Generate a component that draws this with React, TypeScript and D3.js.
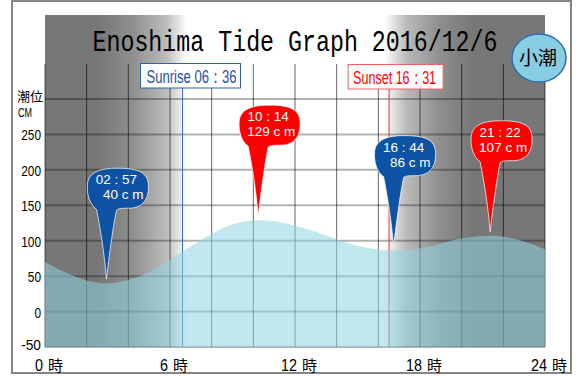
import React from "react";
import * as d3 from "d3";

// ---- data ----
const curveHours = [0, 1, 2, 2.95, 4, 5, 6, 7, 8, 9, 10.23, 11, 12, 13, 14, 15, 16, 16.73, 18, 19, 20, 21.37, 22, 23, 24];
const curveLevels = [70, 55, 44, 40, 44.5, 56, 73, 92, 110, 123, 129, 127.5, 121.5, 112.5, 102, 93, 87.5, 86, 89.5, 96, 103, 107, 105.5, 99, 88];

const eventHours = [2.95, 10.233, 16.733, 21.367];
const eventLevels = [40, 129, 86, 107];
const eventTimes = ["02 : 57", "10 : 14", "16 : 44", "21 : 22"];
const eventLabels = ["40 c m", "129 c m", "86 c m", "107 c m"];
const eventTypes = ["low", "high", "low", "high"];

const gridValues = [-50, 0, 50, 100, 150, 200, 250, 300];
const yTickValues = [-50, 0, 50, 100, 150, 200, 250];
const yTickLabels = ["-50", "0", "50", "100", "150", "200", "250"];
const gridHours = [0, 2, 4, 6, 8, 10, 12, 14, 16, 18, 20, 22, 24];
const xTickHours = [0, 6, 12, 18, 24];
const xTickLabels = ["0 時", "6 時", "12 時", "18 時", "24 時"];

const sunriseHour = 6.6;
const sunriseLabel = "Sunrise  06：36";
const sunsetHour = 16.517;
const sunsetLabel = "Sunset  16：31";

const title = "Enoshima Tide Graph 2016/12/6";
const moonLabel = "小潮";

// ---- layout ----
const W = 576, H = 376;
const x = d3.scaleLinear().domain([0, 24]).range([45, 545]);
const y = d3.scaleLinear().domain([-50, 300]).range([347, 99]);

const balloonShape =
  "M 0 0 C -2 -25, -6 -50, -10 -70 C -16 -74, -20 -84, -19 -95 C -18 -107, -6 -111, 10 -111 " +
  "C 28 -111, 42 -109, 42 -93 C 42 -77, 34 -71, 22 -71 C 16 -71, 12 -71, 10 -69 C 8 -60, 4 -35, 0 0 Z";

export default function App() {
  const area = d3
    .area<number>()
    .x((_, i) => x(curveHours[i]))
    .y0(y(-50))
    .y1((d) => y(d))
    .curve(d3.curveMonotoneX)(curveLevels) as string;

  const dark = "#777777";
  const gradStops = [
    { t: 0, c: dark },
    { t: sunriseHour - 4, c: dark },
    { t: sunriseHour - 2.4, c: "#8f8f8f" },
    { t: sunriseHour - 0.8, c: "#bbbbbb" },
    { t: sunriseHour + 0.2, c: "#ffffff" },
    { t: sunsetHour - 0.2, c: "#ffffff" },
    { t: sunsetHour + 0.8, c: "#bbbbbb" },
    { t: sunsetHour + 2.4, c: "#8f8f8f" },
    { t: sunsetHour + 4, c: dark },
    { t: 24, c: dark },
  ];

  const font = "'Liberation Sans', Arial, sans-serif";
  const cjk = "'Noto Sans CJK JP', sans-serif";
  const srX = x(sunriseHour);
  const ssX = x(sunsetHour);

  return (
    <svg
      width={W}
      height={H}
      style={{ position: "absolute", left: 0, top: 0, background: "#fff" }}
      fontFamily={font}
    >
      <defs>
        <linearGradient id="night" gradientUnits="userSpaceOnUse" x1={x(0)} x2={x(24)} y1={0} y2={0}>
          {gradStops.map((s, i) => (
            <stop key={i} offset={s.t / 24} stopColor={s.c} />
          ))}
        </linearGradient>
      </defs>

      {/* outer border */}
      <rect x={12} y={1} width={559} height={372} fill="#fff" stroke="#858585" strokeWidth={2} />

      {/* day/night background */}
      <rect x={x(0)} y={15} width={x(24) - x(0)} height={y(-50) - 15} fill="url(#night)" />

      {/* grid */}
      {gridValues.map((v) => (
        <line key={"h" + v} x1={x(0)} x2={x(24)} y1={y(v)} y2={y(v)} stroke="rgba(0,0,0,0.3)" strokeWidth={2} />
      ))}
      {gridHours.map((h) => (
        <line key={"v" + h} x1={x(h)} x2={x(h)} y1={64} y2={y(-50)} stroke="rgba(0,0,0,0.6)" strokeWidth={1} />
      ))}

      {/* sunrise / sunset lines */}
      <line x1={srX} x2={srX} y1={88} y2={y(-50)} stroke="#3a6fb8" strokeWidth={1} />
      <line x1={ssX} x2={ssX} y1={89} y2={y(-50)} stroke="#ee3333" strokeWidth={1} />

      {/* tide area */}
      <path d={area} fill="#8fd3e0" fillOpacity={0.55} />

      {/* sunrise / sunset boxes */}
      <rect x={srX - 42} y={63.5} width={100} height={24.5} fill="#fff" stroke="#2f62ad" strokeWidth={1} />
      <text x={srX - 36} y={83} fontSize={19} fill="#1f4fa0" textLength={90} lengthAdjust="spacingAndGlyphs">
        {sunriseLabel}
      </text>
      <rect x={ssX - 41} y={64.5} width={95} height={24.5} fill="#fff" stroke="#f06060" strokeWidth={1} />
      <text x={ssX - 36} y={84} fontSize={19} fill="#ff0000" textLength={83} lengthAdjust="spacingAndGlyphs">
        {sunsetLabel}
      </text>

      {/* title */}
      <g transform={`translate(${x(12)},51) scale(1,1.25)`}>
        <text
          x={0}
          y={0}
          fontSize={23.3}
          fontFamily="'Liberation Mono', 'DejaVu Sans Mono', monospace"
          textAnchor="middle"
          fill="#000"
          textLength={405}
          lengthAdjust="spacingAndGlyphs"
        >
          {title}
        </text>
      </g>

      {/* moon phase */}
      <ellipse cx={539} cy={58} rx={27} ry={24} fill="#87cee2" stroke="#2d6cb5" strokeWidth={1.5} />
      <text x={538} y={65} fontSize={19} textAnchor="middle" fontFamily={cjk} fill="#000">
        {moonLabel}
      </text>

      {/* y axis */}
      <text x={17} y={101} fontSize={13} fontFamily={cjk} fill="#000">
        潮位
      </text>
      <text x={18} y={116.5} fontSize={12} fill="#000" textLength={14} lengthAdjust="spacingAndGlyphs">
        CM
      </text>
      {yTickValues.map((v, i) => (
        <text
          key={"yl" + v}
          x={41}
          y={Math.min(y(v) + 6, 350)}
          fontSize={15}
          textAnchor="end"
          fill="#000"
          textLength={yTickLabels[i].length * 6.6}
          lengthAdjust="spacingAndGlyphs"
        >
          {yTickLabels[i]}
        </text>
      ))}

      {/* x axis */}
      {xTickHours.map((h, i) => {
        const digits = xTickLabels[i].split(" ")[0];
        return (
          <text key={"xl" + h} x={x(h) + 4} y={371} textAnchor="middle" fill="#000">
            <tspan fontSize={17} textLength={digits.length * 8} lengthAdjust="spacingAndGlyphs">
              {digits}
            </tspan>
            <tspan dx={5} fontSize={15} fontFamily={cjk}>
              時
            </tspan>
          </text>
        );
      })}

      {/* tide balloons */}
      {eventHours.map((h, i) => {
        const tx = x(h);
        const ty = y(eventLevels[i]) - 4;
        const col = eventTypes[i] === "high" ? "#ff0000" : "#0d52a3";
        return (
          <g key={"ev" + i} transform={`translate(${tx},${ty})`}>
            <path d={balloonShape} fill={col} stroke="#ffffff" strokeOpacity={0.7} strokeWidth={1} />
            <text x={10} y={-95} fontSize={13.5} textAnchor="middle" fill="#fff">
              {eventTimes[i]}
            </text>
            <text x={37} y={-80} fontSize={13.5} textAnchor="end" fill="#fff">
              {eventLabels[i]}
            </text>
          </g>
        );
      })}
    </svg>
  );
}
